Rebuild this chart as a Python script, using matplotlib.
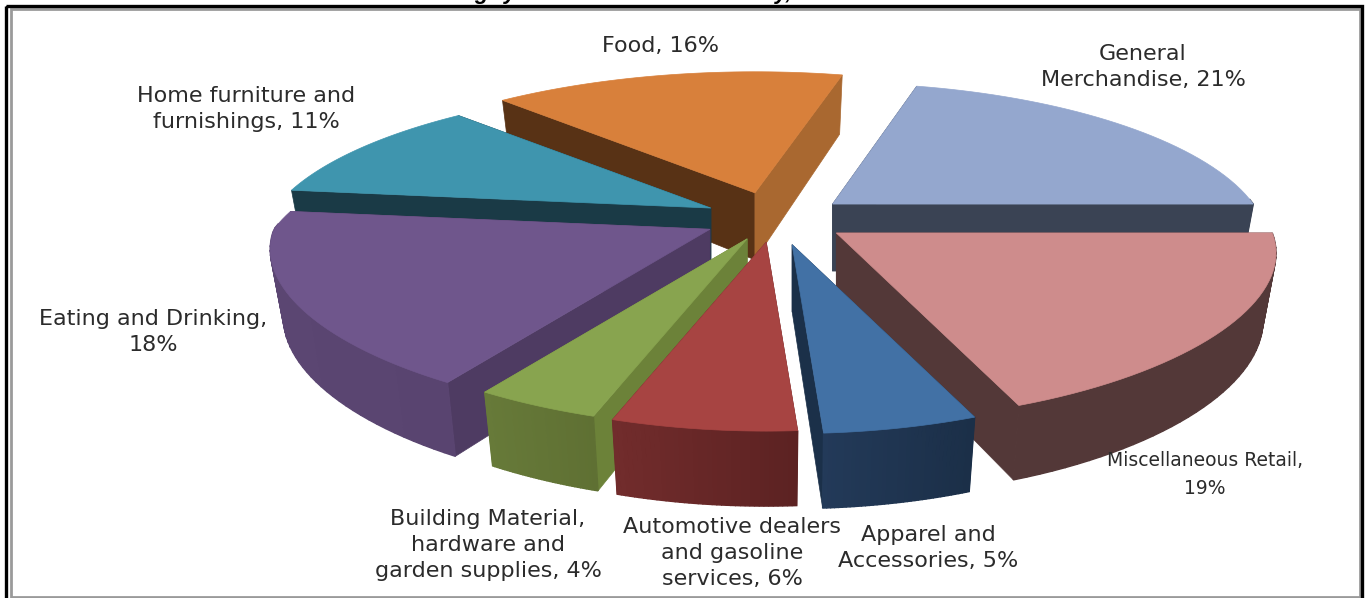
import numpy as np
import matplotlib
matplotlib.use('Agg')
import matplotlib.pyplot as plt
from matplotlib.patches import Polygon, Rectangle

plt.rcParams['font.family'] = ['DejaVu Sans']

# slices, clockwise from the upper right
categories = ['General Merchandise', 'Miscellaneous Retail', 'Apparel and Accessories',
              'Automotive dealers and gasoline services', 'Building Material, hardware and garden supplies',
              'Eating and Drinking', 'Home furniture and furnishings', 'Food']
values = [21, 19, 5, 6, 4, 18, 11, 16]
label_text = ['General\nMerchandise, 21%', 'Miscellaneous Retail,\n19%', 'Apparel and\nAccessories, 5%',
              'Automotive dealers\nand gasoline\nservices, 6%', 'Building Material,\nhardware and\ngarden supplies, 4%',
              'Eating and Drinking,\n18%', 'Home furniture and\nfurnishings, 11%', 'Food, 16%']
label_x = [1143, 1205, 928, 732, 488, 153, 246, 661]
label_y = [67, 474, 548, 553, 545, 332, 109, 46]
label_size = [16, 13.5, 16, 16, 16, 16, 16, 16]

explode = [0.167, 0.17, 0.18, 0.16, 0.15, 0.165, 0.165, 0.185]
rx_scale = [0.965, 1, 1, 1, 1, 1, 1, 1]

# colours: top, flat cut at start angle, flat cut at end angle, wall left, wall right
top_colors = ['#94A7CE', '#CE8C8C', '#4271A5', '#A74442', '#88A44F', '#6F568C', '#3F95AE', '#D8803B']
start_cut = ['#3A4354', '#533838', '#1B3049', '#5D2222', '#6C8239', '#4E3B62', '#1A3A46', '#583215']
end_cut = ['#3A4354', '#533838', '#1B3049', '#5D2222', '#6C8239', '#4E3B62', '#1A3A46', '#A96830']
wall_left = ['#3A4354', '#533838', '#233A59', '#722C2C', '#677A39', '#5B4672', '#1A3A46', '#583215']
wall_right = ['#3A4354', '#533838', '#1B2F48', '#5C2222', '#5F7033', '#594470', '#1A3A46', '#583215']

# pie geometry in picture pixels
CX, CY = 775, 219
RX = 436
RY_FRONT, RY_BACK = 150, 146
K = 0.206
KX_FRONT, KX_BACK = 0.13, 0.25
SHRINK = 0.03
START = 75.6


def project(ang, r, h, off, xs=1):
    u = r * np.cos(np.radians(ang))
    v = -r * np.sin(np.radians(ang))
    s = 1 / (1 - K * v)
    kx = KX_FRONT if v > 0 else KX_BACK
    ry = RY_FRONT if v > 0 else RY_BACK
    x = RX * xs * u / (1 - kx * v) * (1 - SHRINK * h)
    y = ry * v * s + h * (67 + 8 * v)
    return x + CX + off[0], y + CY + off[1]


def blend(c1, c2, t):
    a = np.array(matplotlib.colors.to_rgb(c1))
    b = np.array(matplotlib.colors.to_rgb(c2))
    return tuple(a + (b - a) * t)


fig = plt.figure(figsize=(13.66, 5.98), dpi=100)
ax = fig.add_axes([0, 0, 1, 1])
ax.set_xlim(0, 1366)
ax.set_ylim(598, 0)
ax.axis('off')

# double frame round the chart
ax.add_patch(Rectangle((6, 6), 1356, 640, fill=False, ec='black', lw=2.4, zorder=20))
ax.add_patch(Rectangle((10.5, 9), 1349.5, 588, fill=False, ec='#9a9a9a', lw=2, zorder=19))

# bits of the cut off heading
for s, x in zip(['g', 'y', 'y,'], [481, 510, 784]):
    ax.text(x, -1, s, fontsize=16, fontweight='bold', fontstyle='italic', ha='center',
            va='baseline', color='black', zorder=25, family='Liberation Sans')

# angles of the slices from the values
total = sum(values)
spans = [v / total * 360 for v in values]
starts = [START - sum(spans[:i]) for i in range(len(values))]
mids = [starts[i] - spans[i] / 2 for i in range(len(values))]

# back slices first
order = sorted(range(len(values)), key=lambda i: np.sin(np.radians(mids[i])), reverse=True)
z = 2
for i in order:
    off = (explode[i] * RX * np.cos(np.radians(mids[i])), -explode[i] * RY_BACK * np.sin(np.radians(mids[i])))
    a0, a1 = starts[i], starts[i] - spans[i]
    arc = np.linspace(a0, a1, 40)
    w = rx_scale[i]

    # flat cuts
    for a, col in [(a0, start_cut[i]), (a1, end_cut[i])]:
        pts = [project(a, 0, 0, off, w), project(a, 1, 0, off, w), project(a, 1, 1, off, w), project(a, 0, 1, off, w)]
        ax.add_patch(Polygon(pts, closed=True, fc=col, ec=col, lw=0.5, zorder=z))
        z += 1

    # outer wall in small steps for the shading, only the part facing us
    xs = [project(a, 1, 0, off, w)[0] for a in arc]
    for j in range(len(arc) - 1):
        if np.sin(np.radians(arc[j])) > 0.02 and np.sin(np.radians(arc[j + 1])) > 0.02:
            continue
        pts = [project(arc[j], 1, 0, off, w), project(arc[j + 1], 1, 0, off, w),
               project(arc[j + 1], 1, 1, off, w), project(arc[j], 1, 1, off, w)]
        t = (xs[j] - min(xs)) / (max(xs) - min(xs))
        col = blend(wall_left[i], wall_right[i], t)
        ax.add_patch(Polygon(pts, closed=True, fc=col, ec=col, lw=1.0, zorder=z))
    z += 1

    # top
    pts = [project(a0, 0, 0, off, w)] + [project(a, 1, 0, off, w) for a in arc]
    ax.add_patch(Polygon(pts, closed=True, fc=top_colors[i], ec=top_colors[i], lw=0.5, zorder=z))
    z += 1

for i in range(len(values)):
    ax.text(label_x[i], label_y[i], label_text[i], fontsize=label_size[i], ha='center', va='center',
            color='#2b2b2b', linespacing=21.6 / label_size[i], zorder=30)

fig.savefig('out.png', dpi=100)
